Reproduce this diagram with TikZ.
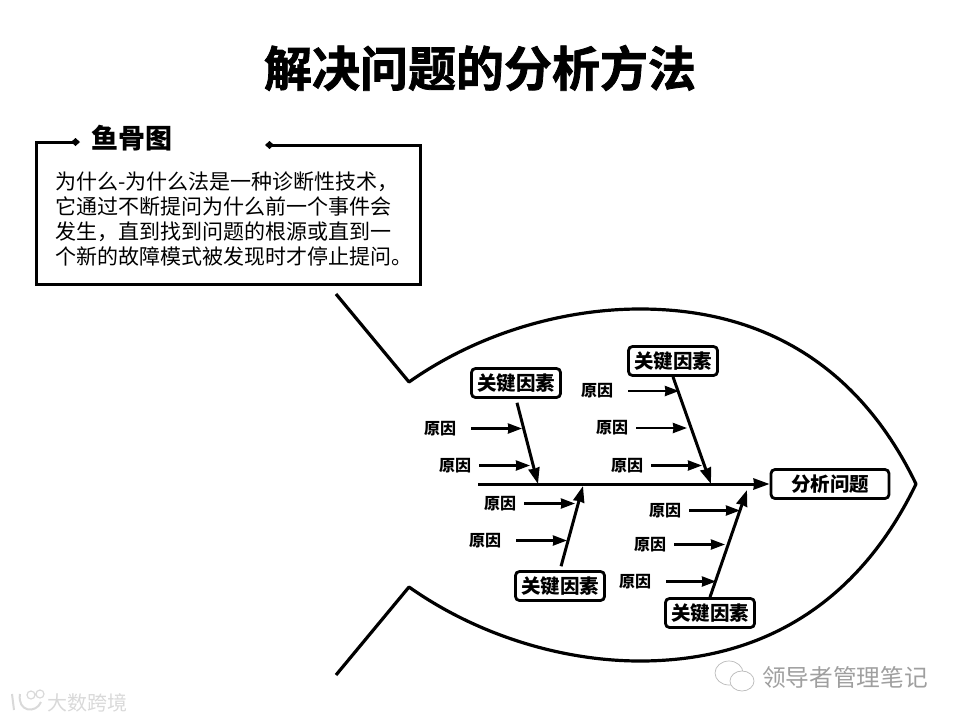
\documentclass[tikz,border=0pt]{standalone}
\usepackage{fontspec}
\setmainfont{Noto Sans CJK SC}
\newfontfamily\heavyfont[FakeBold=1.6]{Noto Sans CJK SC Bold}
\usetikzlibrary{arrows.meta,positioning}
\tikzset{
  keybox/.style={draw,line width=2.8pt,rounded corners=4pt,fill=white,minimum width=89pt,minimum height=29pt,inner sep=0pt,font=\fontsize{19.5}{20}\selectfont\bfseries},
  reason/.style={inner sep=0pt,font=\fontsize{16}{17}\selectfont\bfseries},
  bone/.style={line width=3pt,-{Stealth[length=16pt,width=11pt,inset=0.5pt]}},
  twig/.style={line width=2.5pt,-{Stealth[length=14pt,width=10pt,inset=0.5pt]}},
  outline/.style={line width=3.2pt,line join=round}
}
\begin{document}
\begin{tikzpicture}[x=1pt,y=-1pt,on grid]
\useasboundingbox (0,0) rectangle (960,720);
% title
\node[font=\fontsize{48}{50}\selectfont\heavyfont] (title) at (480,68) {解决问题的分析方法};
% text box
\coordinate (box_a) at (80,142);
\coordinate (box_b) at (36.5,284.5);
\coordinate (box_c) at (420.5,145);
\coordinate (box_d) at (265,145);
\draw[line width=3pt,{Diamond[length=9pt,width=8pt]}-{Diamond[length=9pt,width=8pt]}]
  (box_a) -| (box_b) -| (box_c) -- (box_d);
\node[font=\fontsize{27}{28}\selectfont\bfseries] (head) at (132,138) {鱼骨图};
\node[anchor=west,align=left,inner sep=0pt,font=\fontsize{21}{25}\selectfont] (body) at (55,219.5)
  {为什么-为什么法是一种诊断性技术，\\它通过不断提问为什么前一个事件会\\发生，直到找到问题的根源或直到一\\个新的故障模式被发现时才停止提问。};
% fish
\draw[outline] (336,294) -- (409,382)
  .. controls (480,332) and (565,309) .. (640,309)
  .. controls (770,309) and (862,372) .. (916,484)
  .. controls (862,596) and (770,661) .. (640,661)
  .. controls (565,661) and (480,637) .. (409,587)
  -- (336,675);
% key boxes
\node[keybox] (problem) at (830,484) [minimum width=118pt] {分析问题};
\node[keybox] (key_a) at (516,383) {关键因素};
\node[keybox] (key_b) at (673,361) {关键因素};
\node[keybox] (key_c) at (560,586) {关键因素};
\node[keybox] (key_d) at (710,613) {关键因素};
% spine and bones
\coordinate (tail) at (478,484);
\coordinate (tip_a) at (538,484);
\coordinate (tip_b) at (711,484);
\coordinate (tip_c) at (583,486);
\coordinate (tip_d) at (747,490);
\draw[bone] (tail) -- (problem);
\draw[bone,shorten <=4pt] (key_a.south) -- (tip_a);
\draw[bone] (key_b.south) -- (tip_b);
\draw[bone,shorten <=4pt] (key_c.north) -- (tip_c);
\draw[bone] (key_d.north) -- (tip_d);
% reasons
\node[reason] (r_a1) at (440,428.5) {原因};
\node[reason] (r_a2) at (455,465.5) {原因};
\node[reason] (r_b1) at (597,391) {原因};
\node[reason] (r_b2) at (612,428) {原因};
\node[reason] (r_b3) at (627,465.5) {原因};
\node[reason] (r_c1) at (500,503.5) {原因};
\node[reason] (r_c2) at (485,540.5) {原因};
\node[reason] (r_d1) at (665,510.5) {原因};
\node[reason] (r_d2) at (650,544.5) {原因};
\node[reason] (r_d3) at (635,581.5) {原因};
\coordinate[right=31pt of r_a1] (s_a1); \coordinate[right=51pt of s_a1] (e_a1);
\coordinate[right=24pt of r_a2] (s_a2); \coordinate[right=51pt of s_a2] (e_a2);
\coordinate[right=31pt of r_b1] (s_b1); \coordinate[right=51pt of s_b1] (e_b1);
\coordinate[right=24pt of r_b2] (s_b2); \coordinate[right=51pt of s_b2] (e_b2);
\coordinate[right=24pt of r_b3] (s_b3); \coordinate[right=51pt of s_b3] (e_b3);
\coordinate[right=24pt of r_c1] (s_c1); \coordinate[right=51pt of s_c1] (e_c1);
\coordinate[right=31pt of r_c2] (s_c2); \coordinate[right=51pt of s_c2] (e_c2);
\coordinate[right=24pt of r_d1] (s_d1); \coordinate[right=51pt of s_d1] (e_d1);
\coordinate[right=24pt of r_d2] (s_d2); \coordinate[right=51pt of s_d2] (e_d2);
\coordinate[right=31pt of r_d3] (s_d3); \coordinate[right=50pt of s_d3] (e_d3);
\path[twig]
  (s_a1) edge (e_a1)
  (s_a2) edge (e_a2)
  (s_b1) edge (e_b1)
  (s_b2) edge (e_b2)
  (s_b3) edge (e_b3)
  (s_c1) edge (e_c1)
  (s_c2) edge (e_c2)
  (s_d1) edge (e_d1)
  (s_d2) edge (e_d2)
  (s_d3) edge (e_d3);
% watermarks
\draw[gray!55,line width=0.7pt,fill=white] (729,673) ellipse (14 and 12);
\draw[gray!55,line width=0.7pt,fill=white] (742,681) ellipse (12 and 10);
\node[gray!75,font=\fontsize{23.7}{25}\selectfont] (mark_r) at (845,677) {领导者管理笔记};
\node[gray!30,font=\fontsize{20}{22}\selectfont] (mark_l) at (87,703) {大数跨境};
\draw[gray!30,line width=2pt] (12,694) -- (14,710) (20,694) .. controls (17,712) and (36,714) .. (41,702);
\draw[gray!30,line width=1.2pt] (31,695) circle (4) (40,694) circle (4);
\end{tikzpicture}
\end{document}
